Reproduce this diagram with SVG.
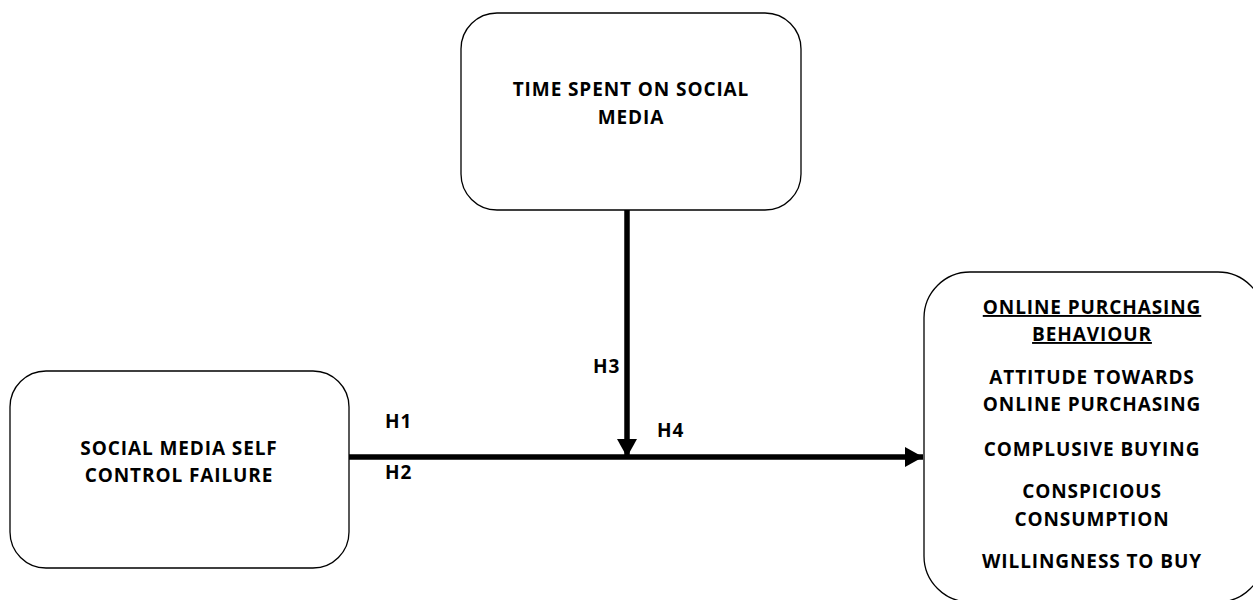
<svg xmlns="http://www.w3.org/2000/svg" width="1253" height="600" viewBox="0 0 1253 600">
<defs>
<style>
.box{fill:#fff;stroke:#000;stroke-width:1.3}
.t{font-family:"Open Sans","Liberation Sans",sans-serif;font-weight:bold;font-size:19px;letter-spacing:0.9px;fill:#000;text-anchor:middle}
.lbl{font-family:"Open Sans","Liberation Sans",sans-serif;font-weight:bold;font-size:19px;letter-spacing:0.9px;fill:#000}
.conn{stroke:#000;stroke-width:5.5;fill:none}
</style>
<marker id="ah" markerUnits="userSpaceOnUse" markerWidth="20" markerHeight="20" viewBox="0 0 20 20" refX="18" refY="10" orient="auto">
<path d="M0,0 L18,10 L0,20 Z" fill="#000"/>
</marker>
</defs>
<rect width="1253" height="600" fill="#fff"/>
<g id="connectors">
<line class="conn" x1="349" y1="457" x2="923" y2="457" marker-end="url(#ah)"/>
<line class="conn" x1="627" y1="210" x2="627" y2="457" marker-end="url(#ah)"/>
<text class="lbl" x="593" y="373">H3</text>
<text class="lbl" x="385" y="428">H1</text>
<text class="lbl" x="657" y="437">H4</text>
<text class="lbl" x="385" y="479">H2</text>
</g>
<g id="time-spent">
<rect class="box" x="461" y="13" width="340" height="197" rx="36" ry="36"/>
<text class="t" x="631" y="96">TIME SPENT ON SOCIAL</text>
<text class="t" x="631" y="124">MEDIA</text>
</g>
<g id="self-control">
<rect class="box" x="10" y="371" width="339" height="197" rx="36" ry="36"/>
<text class="t" x="179" y="455">SOCIAL MEDIA SELF</text>
<text class="t" x="179" y="482">CONTROL FAILURE</text>
</g>
<g id="online-purchasing">
<rect class="box" x="924" y="272" width="340" height="330" rx="46" ry="46"/>
<text class="t" x="1092" y="314" text-decoration="underline">ONLINE PURCHASING</text>
<text class="t" x="1092" y="341" text-decoration="underline">BEHAVIOUR</text>
<text class="t" x="1092" y="384">ATTITUDE TOWARDS</text>
<text class="t" x="1092" y="411">ONLINE PURCHASING</text>
<text class="t" x="1092" y="456">COMPLUSIVE BUYING</text>
<text class="t" x="1092" y="498">CONSPICIOUS</text>
<text class="t" x="1092" y="526">CONSUMPTION</text>
<text class="t" x="1092" y="568">WILLINGNESS TO BUY</text>
</g>
</svg>
